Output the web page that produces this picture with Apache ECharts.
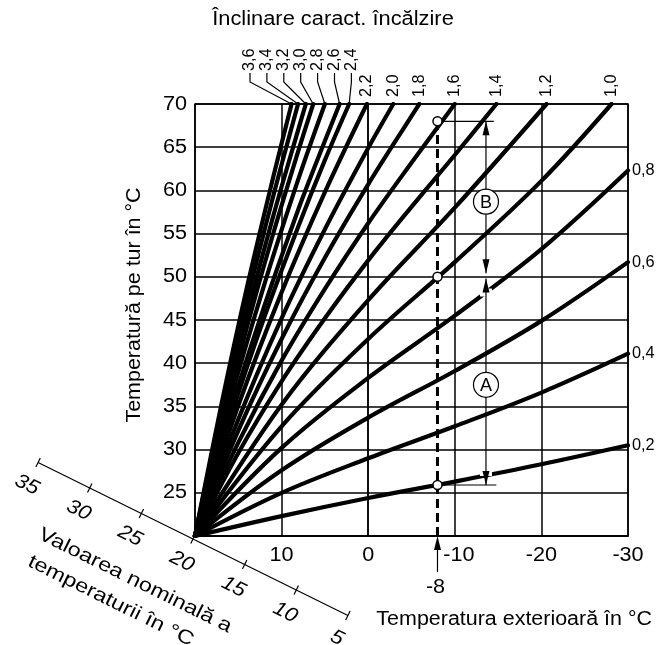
<!DOCTYPE html>
<html>
<head>
<meta charset="utf-8">
<script src="https://cdn.jsdelivr.net/npm/echarts@6.0.0/dist/echarts.min.js"></script>
<style>
  html, body { margin: 0; padding: 0; background: #fff; }
  #main { width: 658px; height: 645px; }
</style>
</head>
<body>
<div id="main"></div>
<script>
// Heating curves: [outdoor temperature °C, flow temperature °C]
const c02 = [[20, 20], [10, 22.3], [0, 24.4], [-10, 26.3], [-20, 28.3], [-30, 30.5]];
const c04 = [[20, 20], [10, 25.0], [0, 29.0], [-10, 32.7], [-20, 36.6], [-30, 41.1]];
const c06 = [[20, 20], [10, 27.6], [0, 33.7], [-10, 39.1], [-20, 44.9], [-30, 51.7]];
const c08 = [[20, 20], [10, 30.2], [0, 38.3], [-10, 45.5], [-20, 53.2], [-30, 62.3]];
const c10 = [[20, 20], [10, 32.7], [0, 42.8], [-10, 51.7], [-20, 61.1], [-28.1, 70]];
const c12 = [[20, 20], [10, 35.2], [0, 47.3], [-10, 58.0], [-20.6, 70]];
const c14 = [[20, 20], [15, 29.6], [10, 37.9], [5, 45.2], [0, 51.9], [-5, 58.1], [-10, 64.1], [-14.8, 70]];
const c16 = [[20, 20], [15, 30.8], [10, 40.3], [5, 48.6], [0, 56.2], [-5, 63.2], [-10, 70]];
const c18 = [[20, 20], [15, 32.2], [10, 42.8], [5, 52.2], [0, 60.7], [-5, 68.6], [-5.9, 70]];
const c20 = [[20, 20], [15, 33.5], [10, 45.2], [5, 55.5], [0, 64.9], [-2.9, 70]];
const c22 = [[20, 20], [15, 35.1], [10, 48.2], [5, 59.8], [0.15, 70]];
const c24 = [[20, 20], [16, 33.4], [12, 45.3], [8, 56.0], [5, 63.5], [2.2, 70]];
const c26 = [[20, 20], [16, 34.1], [12, 46.6], [8, 58.0], [6, 63.2], [3.3, 70]];
const c28 = [[20, 20], [16, 35.4], [12, 49.1], [8, 61.5], [5, 70]];
const c30 = [[20, 20], [17, 32.6], [14, 44.2], [11, 54.9], [8, 64.8], [6.35, 70]];
const c32 = [[20, 20], [17, 33.3], [14, 45.6], [11, 56.9], [8, 67.3], [7.2, 70]];
const c34 = [[20, 20], [17, 34.2], [14, 47.2], [11, 59.2], [8.1, 70]];
const c36 = [[20, 20], [17, 35.0], [14, 48.8], [11, 61.4], [8.85, 70]];

// Curve slope labels, grouped by where they are written
const rightCurves = [c02, c04, c06, c08];
const rightLabels = ['0,2', '0,4', '0,6', '0,8'];
const topCurves = [c10, c12, c14, c16, c18, c20, c22];
const topLabels = ['1,0', '1,2', '1,4', '1,6', '1,8', '2,0', '2,2'];
const fanCurves = [c36, c34, c32, c30, c28, c26, c24];
const fanLabels = ['3,6', '3,4', '3,2', '3,0', '2,8', '2,6', '2,4'];
const allCurves = [c02, c04, c06, c08, c10, c12, c14, c16, c18, c20, c22, c24, c26, c28, c30, c32, c34, c36];

// Axes
const xTicks = [20, 10, 0, -10, -20, -30];
const yTicks = [20, 25, 30, 35, 40, 45, 50, 55, 60, 65, 70];
const nominalTicks = [35, 30, 25, 20, 15, 10, 5];

// Worked example at -8 °C outdoor temperature
const exampleOutdoor = -8;
const exampleFlows = [25.9, 50, 68];
const arrowOutdoor = -13.6;
const bracketEnd = [-14.8, -14.5];       // outdoor value where the short horizontal lines stop (low, high)
const arrowTipsB = [68, 50.4];
const arrowTipsA = [49.8, 25.9];
const badgeB = 58.7;
const badgeA = 37.5;

const FONT = 'Liberation Sans, Arial, sans-serif';
const WIDE = 1.1;   // horizontal stretch of the lettering

const chart = echarts.init(document.getElementById('main'), null, { renderer: 'canvas' });

const series = allCurves.map(function (pts) {
  return {
    type: 'line',
    data: pts,
    smooth: 0.35,
    symbol: 'none',
    silent: true,
    lineStyle: { color: '#000', width: 4.2, cap: 'round' },
    z: 3
  };
});

chart.setOption({
  animation: false,
  backgroundColor: '#fff',
  grid: { left: 195, top: 104, right: 30, bottom: 109, show: true, borderColor: '#000', borderWidth: 1.5 },
  xAxis: {
    type: 'value', min: xTicks[xTicks.length - 1], max: xTicks[0], interval: 10, inverse: true,
    axisLine: { show: true, lineStyle: { color: '#000', width: 1.5 } },
    axisTick: { show: false },
    splitLine: { show: true, lineStyle: { color: '#000', width: 1.5 } },
    axisLabel: { show: false }
  },
  yAxis: {
    type: 'value', min: yTicks[0], max: yTicks[yTicks.length - 1], interval: 5,
    axisLine: { show: true, lineStyle: { color: '#000', width: 1.5 } },
    axisTick: { show: false },
    splitLine: { show: true, lineStyle: { color: '#000', width: 1.5 } },
    axisLabel: { show: false }
  },
  series: series
});

function px(x, y) { return chart.convertToPixel({ gridIndex: 0 }, [x, y]); }
function last(a) { return a[a.length - 1]; }

const g = [];
function txt(x, y, s, size, opt) {
  opt = opt || {};
  g.push({
    type: 'text', x: x, y: y, z: 20,
    rotation: opt.rotation || 0,
    scaleX: opt.scaleX || WIDE,
    style: {
      text: s, fill: '#000',
      font: (opt.italic ? 'italic ' : '') + size + 'px ' + FONT,
      align: opt.align || 'center', verticalAlign: opt.vAlign || 'middle'
    }
  });
}
function line(x1, y1, x2, y2, w, extra) {
  g.push({ type: 'line', z: 15, shape: { x1: x1, y1: y1, x2: x2, y2: y2 },
    style: Object.assign({ stroke: '#000', lineWidth: w || 1.2 }, extra || {}) });
}
function arrowHead(x, tipY, dir) {
  // dir = 1 points down, -1 points up
  const len = 14, half = 3.5;
  g.push({ type: 'polygon', z: 16, shape: { points: [[x, tipY], [x - half, tipY - dir * len], [x + half, tipY - dir * len]] },
    style: { fill: '#000' } });
}
function gap(x, y, w, h) {
  g.push({ type: 'rect', z: 14, shape: { x: x - w / 2, y: y - h / 2, width: w, height: h }, style: { fill: '#fff' } });
}

// Tick labels
xTicks.forEach(function (v) {
  if (v === xTicks[0]) return;
  const p = px(v, 20);
  txt(p[0] + (v === -10 ? 4 : 0), p[1] + 19, String(v), 20, { scaleX: 1.08 });
});
yTicks.forEach(function (v) {
  if (v === yTicks[0]) return;
  const p = px(20, v);
  txt(p[0] - 8, p[1], String(v), 20, { align: 'right', scaleX: 1.08 });
});

// Titles
txt(333, 20, 'Înclinare caract. încălzire', 19.5, { scaleX: 1.12 });
txt(652, 620, 'Temperatura exterioară în °C', 19.5, { align: 'right' });
txt(135, 305, 'Temperatură pe tur în °C', 19.5, { rotation: Math.PI / 2 });

// Labels on curve ends
rightCurves.forEach(function (c, i) {
  const p = px(last(c)[0], last(c)[1]);
  txt(p[0] + 4, p[1], rightLabels[i], 16, { align: 'left', scaleX: 1.02 });
});
topCurves.forEach(function (c, i) {
  const p = px(last(c)[0], last(c)[1]);
  txt(p[0], 97, topLabels[i], 16, { align: 'left', rotation: Math.PI / 2, scaleX: 1.02 });
});
fanCurves.forEach(function (c, i) {
  const p = px(last(c)[0], last(c)[1]);
  const lx = 250 + i * 16.9;
  txt(lx, 71, fanLabels[i], 16, { align: 'left', rotation: Math.PI / 2, scaleX: 1.02 });
  g.push({ type: 'polyline', z: 15, shape: { points: [[lx, 73], [lx, 82], [p[0], p[1]]] },
    style: { stroke: '#000', lineWidth: 1.2, fill: null } });
});

// Example: dashed vertical line at -8 °C
{
  const b = px(exampleOutdoor, 20), t = px(exampleOutdoor, last(exampleFlows));
  line(b[0], b[1], t[0], t[1], 3, { lineDash: [9, 5] });
  line(b[0], b[1] + 36, b[0], b[1] + 8, 1.2);
  arrowHead(b[0], b[1], -1);
  txt(b[0] - 2, b[1] + 51, String(exampleOutdoor), 20, { scaleX: 1.08 });

  // short horizontal lines at the low and high flow temperatures
  const lo = px(exampleOutdoor, exampleFlows[0]), loE = px(bracketEnd[0], exampleFlows[0]);
  const hi = px(exampleOutdoor, exampleFlows[2]), hiE = px(bracketEnd[1], exampleFlows[2]);
  line(lo[0], lo[1], loE[0], loE[1], 1.2);
  line(hi[0], hi[1], hiE[0], hiE[1], 1.2);

  // dimension arrows B and A
  const bTop = px(arrowOutdoor, arrowTipsB[0]), bBot = px(arrowOutdoor, arrowTipsB[1]);
  const aTop = px(arrowOutdoor, arrowTipsA[0]), aBot = px(arrowOutdoor, arrowTipsA[1]);
  // white breaks in the curves next to the arrow heads
  gap(aTop[0], aTop[1] + 14, 12, 8);
  gap(aBot[0], aBot[1] - 13, 12, 8);
  line(bTop[0], bTop[1], bBot[0], bBot[1], 1.2);
  line(aTop[0], aTop[1], aBot[0], aBot[1], 1.2);
  arrowHead(bTop[0], bTop[1], -1);
  arrowHead(bBot[0], bBot[1], 1);
  arrowHead(aTop[0], aTop[1], -1);
  arrowHead(aBot[0], aBot[1], 1);

  [[badgeB, 'B'], [badgeA, 'A']].forEach(function (d) {
    const c = px(arrowOutdoor, d[0]);
    g.push({ type: 'circle', z: 17, shape: { cx: c[0], cy: c[1], r: 12.5 }, style: { fill: '#fff', stroke: '#000', lineWidth: 1.2 } });
    txt(c[0], c[1] + 1, d[1], 18, { scaleX: 1.0 });
  });

  exampleFlows.forEach(function (f) {
    const c = px(exampleOutdoor, f);
    g.push({ type: 'circle', z: 18, shape: { cx: c[0], cy: c[1], r: 4.5 }, style: { fill: '#fff', stroke: '#000', lineWidth: 1.5 } });
  });
}

// Oblique scale: nominal room temperature, crossing the common origin of the curves
{
  const o = px(20, 20);
  const ang = 26.3 * Math.PI / 180;
  const ux = Math.cos(ang), uy = Math.sin(ang), nx = -uy, ny = ux;
  const step = 11.52; // pixels per °C along the oblique scale
  const ox = o[0] - 2, oy = o[1] + 3;
  const pt = function (v, off) { const s = (20 - v) * step; return [ox + ux * s + nx * off, oy + uy * s + ny * off]; };
  const a = pt(nominalTicks[0], 0), b = pt(last(nominalTicks), 0);
  line(a[0], a[1], b[0], b[1], 1.2);
  nominalTicks.forEach(function (v) {
    const p1 = pt(v, -5), p2 = pt(v, 5);
    line(p1[0], p1[1], p2[0], p2[1], 1.2);
    const l = pt(v, 25);
    txt(l[0], l[1], String(v), 20, { rotation: -ang, italic: true });
  });
  const t1 = pt(22.9, 63), t2 = pt(24.0, 92);
  txt(t1[0], t1[1], 'Valoarea nominală a', 19.5, { rotation: -ang, scaleX: 1.2 });
  txt(t2[0], t2[1], 'temperaturii în °C', 19.5, { rotation: -ang, scaleX: 1.2 });
}

chart.setOption({ graphic: { elements: g } });
</script>
</body>
</html>
